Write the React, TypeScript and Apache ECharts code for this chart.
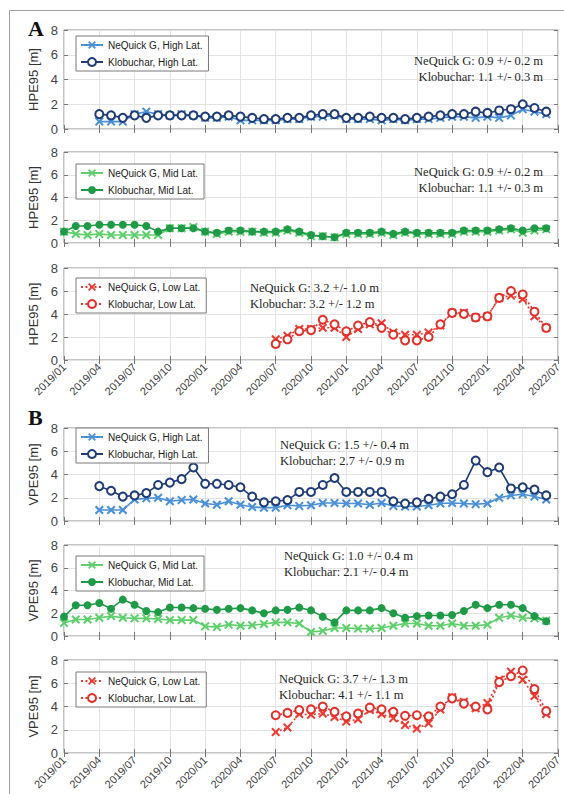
import React, { useEffect, useRef } from "react";
import * as echarts from "echarts";

const months = [
  "2019/01","2019/02","2019/03","2019/04","2019/05","2019/06","2019/07","2019/08","2019/09","2019/10","2019/11","2019/12",
  "2020/01","2020/02","2020/03","2020/04","2020/05","2020/06","2020/07","2020/08","2020/09","2020/10","2020/11","2020/12",
  "2021/01","2021/02","2021/03","2021/04","2021/05","2021/06","2021/07","2021/08","2021/09","2021/10","2021/11","2021/12",
  "2022/01","2022/02","2022/03","2022/04","2022/05","2022/06","2022/07",
];

// Panel A (HPE95)
const hpeHighNeQuick = [0.6,0.6,0.6,1.2,1.4,1.2,1.1,1.2,1.1, 0.9,0.9,1.0,0.7,0.7,0.7,0.7,0.8,0.8,1.0,1.0,1.1, 0.8,0.8,0.8,0.7,0.8,0.7,0.8,0.8,0.9,1.0,1.0,0.9, 1.0,0.9,1.1,1.6,1.4,1.2];
const hpeHighKlobuchar = [1.2,1.1,0.9,1.1,0.9,1.1,1.1,1.1,1.1, 1.0,1.0,1.1,1.0,0.9,0.8,0.8,0.9,0.9,1.1,1.2,1.2, 0.9,0.9,1.0,0.9,0.9,0.8,0.9,1.0,1.1,1.2,1.2,1.4, 1.3,1.5,1.6,2.0,1.7,1.4];
const hpeMidNeQuick = [1.0,0.8,0.7,0.8,0.7,0.7,0.7,0.7,0.7,1.3,1.3,1.4, 1.0,0.8,1.0,1.0,1.0,0.9,0.9,1.1,0.9,0.6,0.6,0.5, 0.8,0.8,0.8,0.9,0.7,0.9,0.8,0.8,0.8,0.8,1.0,1.0, 1.0,1.1,1.2,0.9,1.1,1.2];
const hpeMidKlobuchar = [1.0,1.5,1.5,1.6,1.6,1.6,1.6,1.5,1.0,1.3,1.3,1.3, 1.0,0.9,1.1,1.1,1.0,1.0,1.0,1.2,1.0,0.7,0.6,0.5, 0.9,0.9,0.9,1.0,0.8,1.0,0.9,0.9,0.9,0.9,1.1,1.1, 1.1,1.2,1.3,1.1,1.3,1.3];
const hpeLowNeQuick = [1.8,2.1,2.7,2.7,2.8,2.8,2.0,2.7,3.1,3.2,2.4,2.2,2.2,2.4,3.0,4.1,4.1,3.7,3.8,5.4,5.6,5.3,3.8,2.8];
const hpeLowKlobuchar = [1.4,1.8,2.5,2.6,3.5,3.1,2.5,3.0,3.3,2.8,2.2,1.7,1.7,2.0,3.1,4.1,4.0,3.7,3.8,5.4,6.0,5.7,4.2,2.8];

// Panel B (VPE95)
const vpeHighNeQuick = [0.95,0.95,0.95,1.85,1.95,2.0,1.7,1.8,1.85, 1.5,1.4,1.7,1.4,1.2,1.15,1.15,1.35,1.3,1.35,1.55,1.55, 1.5,1.5,1.4,1.55,1.3,1.25,1.25,1.35,1.5,1.55,1.5,1.45, 1.5,2.0,2.2,2.3,2.1,1.85];
const vpeHighKlobuchar = [3.0,2.6,2.1,2.2,2.4,3.1,3.3,3.6,4.6, 3.2,3.2,3.1,2.9,2.1,1.6,1.7,1.8,2.5,2.5,3.1,3.7, 2.5,2.5,2.5,2.5,1.7,1.5,1.6,1.9,2.1,2.3,3.1,5.2, 4.2,4.6,2.8,2.9,2.7,2.2];
const vpeMidNeQuick = [1.15,1.45,1.45,1.6,1.75,1.6,1.55,1.55,1.5,1.4,1.4,1.4, 0.85,0.8,1.0,0.9,0.95,1.05,1.2,1.2,1.1,0.35,0.45,0.7, 0.7,0.65,0.65,0.7,0.9,1.1,1.1,0.9,0.9,1.1,0.9,0.9, 1.0,1.6,1.8,1.6,1.55,1.35];
const vpeMidKlobuchar = [1.7,2.7,2.7,2.9,2.4,3.2,2.75,2.2,2.1,2.5,2.5,2.45, 2.4,2.3,2.4,2.45,2.25,2.0,2.25,2.3,2.5,2.25,1.7,1.2, 2.25,2.25,2.25,2.45,2.0,1.6,1.75,1.8,1.8,1.85,2.2,2.75, 2.45,2.75,2.75,2.45,1.75,1.3];
const vpeLowNeQuick = [1.8,2.2,3.35,3.3,3.4,3.1,2.7,2.9,3.7,3.35,3.0,2.4,2.1,2.55,3.75,4.8,4.4,3.85,4.3,6.3,7.0,6.3,4.9,3.35];
const vpeLowKlobuchar = [3.25,3.45,3.7,3.75,4.0,3.55,3.15,3.4,3.9,3.75,3.55,3.2,3.25,3.15,4.0,4.7,4.25,4.0,3.75,6.1,6.6,7.1,5.5,3.6];

const yTicks = [0, 2, 4, 6, 8];

const X_PATH = "path://M0,1.6L1.6,0L5,3.4L8.4,0L10,1.6L6.6,5L10,8.4L8.4,10L5,6.6L1.6,10L0,8.4L3.4,5Z";

const STYLES: any = {
  nqHigh: { color: "#4a90d9", symbol: X_PATH, size: 9, line: "solid", fillSym: true },
  kbHigh: { color: "#1f3c78", symbol: "circle", size: 8, line: "solid", fillSym: false },
  nqMid: { color: "#5fcf6c", symbol: X_PATH, size: 9, line: "solid", fillSym: true },
  kbMid: { color: "#1f9a46", symbol: "circle", size: 8, line: "solid", fillSym: true },
  nqLow: { color: "#ee3a31", symbol: X_PATH, size: 9, line: "dotted", fillSym: true },
  kbLow: { color: "#e2302a", symbol: "circle", size: 8, line: "dotted", fillSym: false },
};

const PANELS = [
  { top: 30, height: 99, yName: "HPE95 [m]", xLabels: false,
    series: [
      { name: "NeQuick G, High Lat.", values: hpeHighNeQuick, start: "2019/04", kind: "nqHigh" },
      { name: "Klobuchar, High Lat.", values: hpeHighKlobuchar, start: "2019/04", kind: "kbHigh" },
    ],
    legendTop: 36, note: { x: 543, y: 61, align: "right", lines: ["NeQuick G: 0.9 +/- 0.2 m", "Klobuchar: 1.1 +/- 0.3 m"] } },
  { top: 152, height: 91, yName: "HPE95 [m]", xLabels: false,
    series: [
      { name: "NeQuick G, Mid Lat.", values: hpeMidNeQuick, start: "2019/01", kind: "nqMid" },
      { name: "Klobuchar, Mid Lat.", values: hpeMidKlobuchar, start: "2019/01", kind: "kbMid" },
    ],
    legendTop: 164, note: { x: 543, y: 172, align: "right", lines: ["NeQuick G: 0.9 +/- 0.2 m", "Klobuchar: 1.1 +/- 0.3 m"] } },
  { top: 268, height: 92, yName: "HPE95 [m]", xLabels: true,
    series: [
      { name: "NeQuick G, Low Lat.", values: hpeLowNeQuick, start: "2020/07", kind: "nqLow" },
      { name: "Klobuchar, Low Lat.", values: hpeLowKlobuchar, start: "2020/07", kind: "kbLow" },
    ],
    legendTop: 278, note: { x: 250, y: 288, align: "left", lines: ["NeQuick G: 3.2 +/- 1.0 m", "Klobuchar: 3.2 +/- 1.2 m"] } },
  { top: 428, height: 93, yName: "VPE95 [m]", xLabels: false,
    series: [
      { name: "NeQuick G, High Lat.", values: vpeHighNeQuick, start: "2019/04", kind: "nqHigh" },
      { name: "Klobuchar, High Lat.", values: vpeHighKlobuchar, start: "2019/04", kind: "kbHigh" },
    ],
    legendTop: 428, note: { x: 280, y: 445, align: "left", lines: ["NeQuick G: 1.5 +/- 0.4 m", "Klobuchar: 2.7 +/- 0.9 m"] } },
  { top: 545, height: 91, yName: "VPE95 [m]", xLabels: false,
    series: [
      { name: "NeQuick G, Mid Lat.", values: vpeMidNeQuick, start: "2019/01", kind: "nqMid" },
      { name: "Klobuchar, Mid Lat.", values: vpeMidKlobuchar, start: "2019/01", kind: "kbMid" },
    ],
    legendTop: 556, note: { x: 284, y: 556, align: "left", lines: ["NeQuick G: 1.0 +/- 0.4 m", "Klobuchar: 2.1 +/- 0.4 m"] } },
  { top: 660, height: 93, yName: "VPE95 [m]", xLabels: true,
    series: [
      { name: "NeQuick G, Low Lat.", values: vpeLowNeQuick, start: "2020/07", kind: "nqLow" },
      { name: "Klobuchar, Low Lat.", values: vpeLowKlobuchar, start: "2020/07", kind: "kbLow" },
    ],
    legendTop: 672, note: { x: 279, y: 679, align: "left", lines: ["NeQuick G: 3.7 +/- 1.3 m", "Klobuchar: 4.1 +/- 1.1 m"] } },
];

const LEFT = 64;
const RIGHT = 6;
const SANS = "'Liberation Sans', Arial, sans-serif";
const SERIF = "'Liberation Serif', 'DejaVu Serif', serif";

function buildOption() {
  const grid: any[] = [];
  const xAxis: any[] = [];
  const yAxis: any[] = [];
  const series: any[] = [];
  const legend: any[] = [];
  const graphic: any[] = [];

  graphic.push({
    type: "rect", z: -10, silent: true,
    shape: { x: 9.5, y: 10.5, width: 600, height: 820 },
    style: { fill: "none", stroke: "#a0a0a0", lineWidth: 1 },
  });
  graphic.push({ type: "text", x: 28, y: 17, style: { text: "A", fontSize: 22, fontWeight: "bold", fontFamily: SERIF, fill: "#111" } });
  graphic.push({ type: "text", x: 28, y: 406, style: { text: "B", fontSize: 22, fontWeight: "bold", fontFamily: SERIF, fill: "#111" } });

  PANELS.forEach((p, i) => {
    grid.push({ left: LEFT, right: RIGHT, top: p.top, height: p.height, show: true, borderColor: "#8a8a8a", borderWidth: 1, backgroundColor: "#fff" });
    const base = {
      type: "category", gridIndex: i, data: months, boundaryGap: false,
      axisLine: { show: false },
    };
    xAxis.push({
      ...base, position: "bottom",
      axisTick: { show: true, inside: true, interval: 2, length: 4, lineStyle: { color: "#777" } },
      axisLabel: p.xLabels
        ? { show: true, interval: 2, rotate: 45, fontSize: 11, fontFamily: SANS, color: "#404040", margin: 5 }
        : { show: false },
      splitLine: { show: true, interval: 2, lineStyle: { color: "#e3e3e3", width: 1 } },
    });
    xAxis.push({
      ...base, position: "top",
      axisTick: { show: true, inside: true, interval: 2, length: 4, lineStyle: { color: "#777" } },
      axisLabel: { show: false }, splitLine: { show: false },
    });
    const ybase = { type: "value", gridIndex: i, min: 0, max: 8, interval: 2, axisLine: { show: false } };
    yAxis.push({
      ...ybase, position: "left",
      name: p.yName, nameLocation: "middle", nameGap: 21,
      nameTextStyle: { fontSize: 13, fontFamily: SANS, color: "#333" },
      axisTick: { show: true, inside: true, length: 4, lineStyle: { color: "#777" } },
      axisLabel: { show: true, fontSize: 13, fontFamily: SANS, color: "#444", margin: 6,
        formatter: (v: number) => (yTicks.includes(v) ? String(v) : "") },
      splitLine: { show: true, lineStyle: { color: "#e3e3e3", width: 1 } },
    });
    yAxis.push({
      ...ybase, position: "right",
      axisTick: { show: true, inside: true, length: 4, lineStyle: { color: "#777" } },
      axisLabel: { show: false }, splitLine: { show: false },
    });

    p.series.forEach((s) => {
      const st = STYLES[s.kind];
      const startIdx = months.indexOf(s.start);
      const data = months.map((m, k) => {
        const j = k - startIdx;
        return j >= 0 && j < s.values.length ? s.values[j] : null;
      });
      series.push({
        type: "line", name: s.name, xAxisIndex: 2 * i, yAxisIndex: 2 * i,
        data, connectNulls: false, symbol: st.symbol, symbolSize: st.size,
        showSymbol: true, showAllSymbol: true,
        color: st.color,
        lineStyle: { color: st.color, width: 1.6, type: st.line === "dotted" ? [2, 2.5] : "solid" },
        itemStyle: st.fillSym
          ? { color: st.color, borderColor: st.color, borderWidth: 0 }
          : { color: "#ffffff", borderColor: st.color, borderWidth: 2 },
        emphasis: { disabled: true },
        z: 3,
      });
    });

    legend.push({
      data: p.series.map((s) => s.name),
      orient: "vertical", left: 76, top: p.legendTop,
      selectedMode: false,
      borderColor: "#7a7a7a", borderWidth: 1, borderRadius: 0,
      backgroundColor: "#fff",
      padding: [4, 6, 4, 4], itemGap: 7, itemWidth: 22, itemHeight: 10,
      textStyle: { fontSize: 10, fontFamily: SANS, color: "#222" },
    });

    p.note.lines.forEach((line, k) => {
      graphic.push({
        type: "text", x: p.note.x, y: p.note.y + k * 16, z: 10,
        style: {
          text: line, fontSize: 12.5, fontFamily: SERIF, fill: "#262626",
          textAlign: p.note.align, textVerticalAlign: "middle",
        },
      });
    });
  });

  return {
    animation: false,
    backgroundColor: "#ffffff",
    grid, xAxis, yAxis, series, legend, graphic,
  };
}

export default function App() {
  const ref = useRef<HTMLDivElement>(null);
  useEffect(() => {
    if (!ref.current) return;
    const chart = echarts.init(ref.current, undefined, { renderer: "svg" });
    chart.setOption(buildOption() as any);
    return () => chart.dispose();
  }, []);
  return (
    <div
      ref={ref}
      style={{ position: "fixed", left: 0, top: 0, width: 564, height: 794, background: "#fff" }}
    />
  );
}
